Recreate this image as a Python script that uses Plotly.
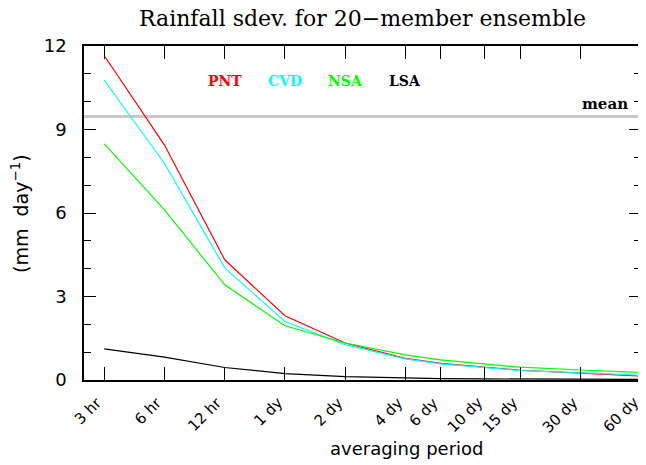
import math
import plotly.graph_objects as go

# ---- data ----
periods_hr = [3, 6, 12, 24, 48, 96, 144, 240, 360, 720, 1440]
period_labels = ["3 hr", "6 hr", "12 hr", "1 dy", "2 dy", "4 dy", "6 dy",
                 "10 dy", "15 dy", "30 dy", "60 dy"]
pnt = [11.65, 8.44, 4.32, 2.31, 1.33, 0.78, 0.60, 0.47, 0.35, 0.25, 0.14]
cvd = [10.77, 7.78, 4.03, 2.10, 1.27, 0.76, 0.58, 0.46, 0.34, 0.26, 0.17]
nsa = [8.48, 6.11, 3.42, 1.95, 1.33, 0.90, 0.72, 0.59, 0.46, 0.36, 0.27]
lsa = [1.12, 0.82, 0.45, 0.23, 0.12, 0.06, 0.05, 0.04, 0.03, 0.02, 0.02]
mean_value = 9.47

series_names = ["PNT", "CVD", "NSA", "LSA"]
series_values = [pnt, cvd, nsa, lsa]
series_colors = ["#ff0000", "#00ffff", "#00ff00", "#000000"]
label_periods = [12, 24, 48, 96]  # where the coloured labels sit

y_ticks = [0, 3, 6, 9, 12]

# the page body adds an 8px margin, so the figure is 8px smaller
W, H = 638, 457
L, R, T, B = 76, 5, 38, 85

fig = go.Figure()

for name, vals, col in zip(series_names, series_values, series_colors):
    fig.add_trace(go.Scatter(x=periods_hr, y=vals, mode="lines", name=name,
                             line=dict(color=col, width=1.2)))

fig.add_shape(type="line", xref="paper", x0=0, x1=1, yref="y",
              y0=mean_value, y1=mean_value,
              line=dict(color="#c8c8c8", width=3), layer="below")

fig.add_annotation(text="<b>mean</b>", xref="paper", x=0.98, xanchor="right",
                   yref="y", y=mean_value, yanchor="bottom", yshift=1,
                   showarrow=False,
                   font=dict(family="DejaVu Serif", size=15, color="black"))

for name, col, p in zip(series_names, series_colors, label_periods):
    fig.add_annotation(text="<b>%s</b>" % name, x=math.log10(p), xref="x",
                       y=10.76, yref="y", showarrow=False,
                       xanchor="center", yanchor="middle",
                       font=dict(family="DejaVu Serif", size=14, color=col))

# rotated x tick labels, drawn as annotations anchored at each tick
for p, lab in zip(periods_hr, period_labels):
    fig.add_annotation(text=lab, x=math.log10(p), xref="x",
                       y=0, yref="paper", showarrow=False,
                       textangle=-45, xanchor="right", yanchor="top",
                       xshift=4, yshift=-11,
                       font=dict(family="DejaVu Sans", size=15, color="black"))

fig.add_annotation(text="(mm  day<sup>−1</sup>)", xref="paper", x=-0.115,
                   yref="paper", y=0.5, textangle=-90, showarrow=False,
                   xanchor="center", yanchor="middle",
                   font=dict(family="DejaVu Sans", size=19, color="black"))

fig.add_annotation(text="averaging period", xref="paper", x=0.58,
                   yref="paper", y=-0.205, showarrow=False,
                   xanchor="center", yanchor="middle",
                   font=dict(family="DejaVu Sans", size=18, color="black"))

x_lo = math.log10(periods_hr[0]) - 0.1015
x_hi = math.log10(periods_hr[-1]) + 0.002

fig.update_layout(
    width=W, height=H,
    margin=dict(l=L, r=R, t=T, b=B, autoexpand=False),
    paper_bgcolor="white", plot_bgcolor="white",
    showlegend=False,
    title=dict(text="Rainfall sdev. for 20−member ensemble",
               x=(L + (W - R)) / 2 / W, xanchor="center",
               y=1 - 3 / H, yanchor="top",
               font=dict(family="DejaVu Serif", size=22, color="black")),
    xaxis=dict(type="log", range=[x_lo, x_hi], automargin=False,
               tickvals=periods_hr, showticklabels=False,
               ticks="inside", ticklen=13, tickwidth=1,
               tickcolor="black", mirror="ticks", showline=True,
               linecolor="black", linewidth=1.5, showgrid=False,
               zeroline=False),
    yaxis=dict(range=[0, 12], tickvals=y_ticks, automargin=False,
               ticks="inside", ticklen=12, tickwidth=1.2, tickcolor="black",
               minor=dict(dtick=1, ticks="inside", ticklen=7,
                          tickcolor="black", tickwidth=1),
               mirror="ticks", showline=True, linecolor="black",
               linewidth=1.5, showgrid=False, zeroline=False,
               ticklabelstandoff=12,
               tickfont=dict(family="DejaVu Sans", size=18, color="black")),
)

fig.write_html("out.html")
